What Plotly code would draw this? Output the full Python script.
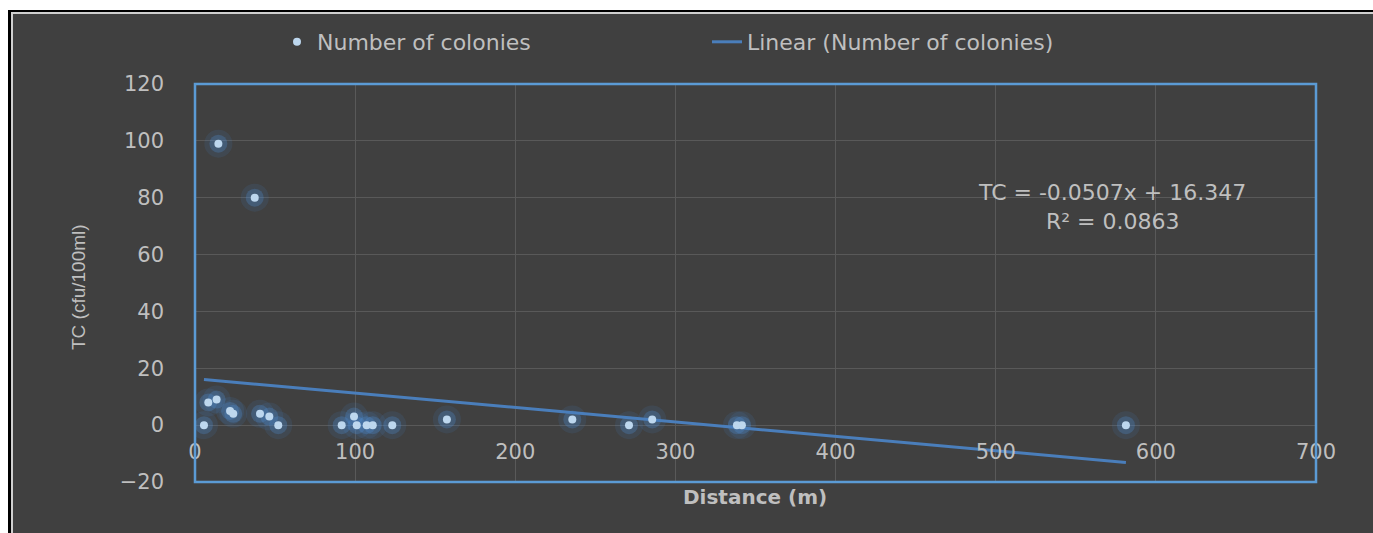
import plotly.graph_objects as go

# ---- data ----
distance_m = [5.6, 8.3, 13.5, 14.6, 21.9, 23.9, 37.3, 40.6, 46.4, 52.0,
              91.6, 99.3, 101.0, 107.2, 111.0, 123.2, 157.3, 235.6, 271.0,
              285.5, 338.4, 341.5, 581.3]
tc_colonies = [0, 8, 9, 99, 5, 4, 80, 4, 3, 0,
               0, 3, 0, 0, 0, 0, 2, 2, 0,
               2, 0, 0, 0]
trend_slope = -0.0507
trend_intercept = 16.347
r_squared = 0.0863
x_ticks = [0, 100, 200, 300, 400, 500, 600, 700]
y_ticks = [-20, 0, 20, 40, 60, 80, 100, 120]

# trendline from equation over the data range
tx = [min(distance_m), max(distance_m)]
ty = [trend_slope * v + trend_intercept for v in tx]

W, H = 1373, 533
L, T = 195, 84
R, B = 57, 51
PW, PH = W - L - R, H - T - B


def px(x):  # page pixel -> paper x
    return (x - L) / PW


def py(y):  # page pixel -> paper y
    return (H - B - y) / PH


BG = "#404040"
TXT = "#BFBFBF"
FONT = "DejaVu Sans"

fig = go.Figure()

# glow layers
fig.add_trace(go.Scatter(x=distance_m, y=tc_colonies, mode="markers",
                         marker=dict(size=28, color="rgba(70,130,200,0.13)", line=dict(width=0)),
                         showlegend=False, hoverinfo="skip"))
fig.add_trace(go.Scatter(x=distance_m, y=tc_colonies, mode="markers",
                         marker=dict(size=18, color="rgba(80,145,215,0.28)", line=dict(width=0)),
                         showlegend=False, hoverinfo="skip"))
# trendline
fig.add_trace(go.Scatter(x=tx, y=ty, mode="lines", name="Linear (Number of colonies)",
                         line=dict(color="#4A7EBB", width=3), legendrank=2))
# points
fig.add_trace(go.Scatter(x=distance_m, y=tc_colonies, mode="markers", name="Number of colonies",
                         marker=dict(size=8, color="#BDD7EE", line=dict(width=0)), legendrank=1))

shapes = [
    dict(type="rect", xref="paper", yref="paper", x0=px(8), y0=py(10), x1=px(1400), y1=py(560),
         fillcolor="#000000", line=dict(width=0), layer="below"),
    dict(type="rect", xref="paper", yref="paper", x0=px(11), y0=py(12), x1=px(1400), y1=py(560),
         fillcolor="#D0D0D0", line=dict(width=0), layer="below"),
    dict(type="rect", xref="paper", yref="paper", x0=px(13), y0=py(14), x1=px(1400), y1=py(560),
         fillcolor=BG, line=dict(width=0), layer="below"),
    dict(type="rect", xref="paper", yref="paper", x0=0, y0=0, x1=1, y1=1,
         line=dict(color="#5B9BD5", width=2.5), layer="above"),
]

fig.update_layout(
    width=W, height=H,
    margin=dict(l=L, r=R, t=T, b=B),
    paper_bgcolor="white",
    plot_bgcolor=BG,
    shapes=shapes,
    font=dict(family=FONT, color=TXT, size=21),
    legend=dict(orientation="h", x=px(277), xanchor="left", y=py(42), yanchor="middle",
                bgcolor="rgba(0,0,0,0)", font=dict(size=22, color=TXT, family=FONT),
                entrywidth=385, traceorder="normal"),
    xaxis=dict(range=[0, 700], tickvals=x_ticks, showgrid=True, gridcolor="#595959",
               gridwidth=1, zeroline=False, showline=False, ticks="",
               anchor="free", position=(0 - y_ticks[0]) / (y_ticks[-1] - y_ticks[0]),
               ticklabelstandoff=12, tickfont=dict(size=21, color=TXT, family=FONT)),
    yaxis=dict(range=[-20, 120], tickvals=y_ticks, showgrid=True, gridcolor="#595959",
               gridwidth=1, zeroline=False, showline=False, ticks="",
               ticklabelstandoff=30, tickfont=dict(size=21, color=TXT, family=FONT)),
    annotations=[
        dict(text="TC = -0.0507x + 16.347<br>R² = 0.0863", xref="paper", yref="paper",
             x=px(1112), y=py(207), xanchor="center", yanchor="middle", showarrow=False,
             align="center", font=dict(size=22, color=TXT, family=FONT)),
        dict(text="Distance (m)", xref="paper", yref="paper", x=px(755), y=py(497),
             xanchor="center", yanchor="middle", showarrow=False,
             font=dict(size=20, color=TXT, family=FONT, weight="bold")),
        dict(text="TC (cfu/100ml)", xref="paper", yref="paper", x=px(78), y=py(287),
             xanchor="center", yanchor="middle", showarrow=False, textangle=-90,
             font=dict(size=19, color=TXT, family="Liberation Sans Narrow, Liberation Sans")),
    ],
)

fig.write_html("out.html", config={"displayModeBar": False},
               post_script="document.body.style.margin='0px';")
